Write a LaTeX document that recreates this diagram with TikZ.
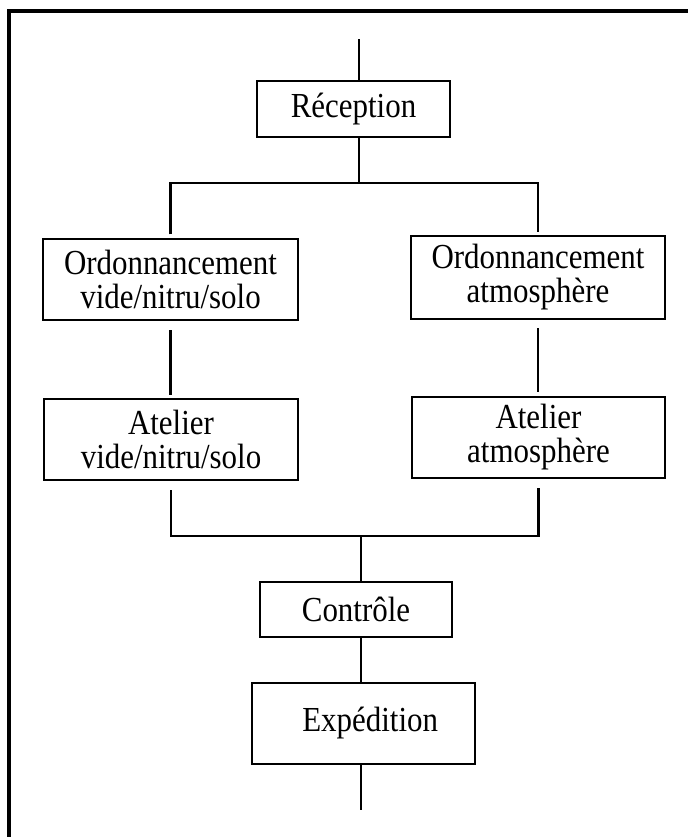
\documentclass[tikz,border=0pt]{standalone}
\usepackage{fontspec}
\setmainfont{Liberation Serif}[FakeStretch=0.88]
\usepackage{tikz}
\usetikzlibrary{positioning,calc}

\begin{document}
\begin{tikzpicture}[
  x=0.03cm, y=-0.03cm,
  stage/.style={draw, line width=2pt, inner sep=0pt, align=center, font=\fontsize{30}{29}\selectfont},
  link/.style={line width=2pt}
]
  \useasboundingbox (0,0) rectangle (688,837);

  % Frame (left and top only)
  \draw[line width=2.8pt] (9,837) -- (9,11) -- (688,11);

  % Stages
  \node[stage, minimum width=5.79cm, minimum height=1.68cm] (rec) at (353.5,109) {Réception};
  \node[stage, minimum width=7.65cm, minimum height=2.43cm] (ordvide) at (170.5,279.5) {Ordonnancement\\vide/nitru/solo};
  \node[stage, minimum width=7.62cm, minimum height=2.49cm] (ordatmo) at (538,277.5) {Ordonnancement\\atmosphère};
  \node[stage, minimum width=7.62cm, minimum height=2.43cm] (atvide) at (171,439.5) {Atelier\\vide/nitru/solo};
  \node[stage, minimum width=7.59cm, minimum height=2.43cm] (atatmo) at (538.5,437.5) {Atelier\\atmosphère};
  \node[stage, minimum width=5.76cm, minimum height=1.65cm] (ctl) at (356,609.5) {Contrôle};
  \node[stage, minimum width=6.69cm, minimum height=2.43cm] (exped) at (363.5,723.5) {\hspace{0.4cm}Expédition};

  \coordinate (in) at (359,39);
  \coordinate (split) at (359,183);
  \coordinate (join) at (361,536);
  \coordinate (out) at (361,810);

  % Incoming flow and split
  \draw[link] (in) -- (in |- rec.north);
  \draw[link] (rec.south -| split) -- (split);
  \draw[link, shorten <=0.1cm] (ordvide.north) |- (split);
  \draw[link, shorten >=0.07cm] (split) -| (ordatmo.north);

  % Two branches
  \draw[link, shorten <=0.27cm, shorten >=0.09cm] (ordvide.south) -- (ordvide.south |- atvide.north);
  \draw[link, shorten <=0.24cm, shorten >=0.12cm] (ordatmo.south) -- (ordatmo.south |- atatmo.north);

  % Join and outgoing flow
  \draw[link, shorten <=0.27cm] (atvide.south) |- (join);
  \draw[link, shorten >=0.27cm] (join) -| (atatmo.south);
  \draw[link] (join) -- (join |- ctl.north);
  \draw[link] (ctl.south -| join) -- (join |- exped.north);
  \draw[link] (exped.south -| join) -- (out);
\end{tikzpicture}
\end{document}
